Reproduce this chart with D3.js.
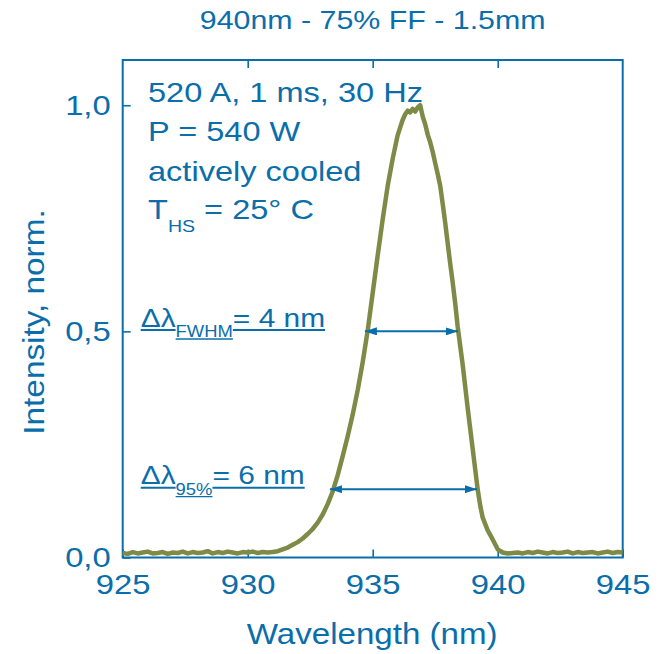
<!DOCTYPE html>
<html lang="en">
<head>
<meta charset="UTF-8">
<title>940nm - 75% FF - 1.5mm</title>
<script src="https://d3js.org/d3.v7.min.js"></script>
<style>
    body { margin: 0; background: #fff; }
    text { font-family: "Liberation Sans", Arial, sans-serif; fill: #0a6eaa; }
</style>
</head>
<body>

<div id="chart"></div>

<script>
    var blue = "#0a6eaa", olive = "#7e8b47";

    // spectrum (nm, normalised intensity)
    var wavelength = [
        925.0, 925.2, 925.4, 925.6, 925.8, 926.0, 926.2, 926.4, 926.6, 926.8,
        927.0, 927.2, 927.4, 927.6, 927.8, 928.0, 928.2, 928.4, 928.6, 928.8,
        929.0, 929.2, 929.4, 929.6, 929.8, 930.0, 930.2, 930.4, 930.6, 930.8,
        931.0, 931.2, 931.4, 931.6, 931.8, 932.0, 932.2, 932.4, 932.6, 932.8,
        933.0, 933.2, 933.4, 933.6, 933.8, 934.0, 934.2, 934.4, 934.6, 934.8,
        935.0, 935.2, 935.4, 935.6, 935.8, 936.0, 936.2, 936.3, 936.4, 936.5,
        936.6, 936.7, 936.8, 936.9, 937.0, 937.1, 937.2, 937.3, 937.4, 937.5,
        937.6, 937.7, 937.8, 937.9, 938.0, 938.1, 938.2, 938.3, 938.4, 938.5,
        938.6, 938.7, 938.8, 938.9, 939.0, 939.1, 939.2, 939.3, 939.4, 939.6,
        939.8, 940.0, 940.2, 940.4, 940.6, 940.8, 941.0, 941.2, 941.4, 941.6,
        941.8, 942.0, 942.2, 942.4, 942.6, 942.8, 943.0, 943.2, 943.4, 943.6,
        943.8, 944.0, 944.2, 944.4, 944.6, 944.8, 945.0
    ];
    var intensity = [
        0.010, 0.008, 0.012, 0.009, 0.011, 0.013, 0.009, 0.010, 0.012, 0.008,
        0.011, 0.010, 0.013, 0.009, 0.012, 0.010, 0.011, 0.014, 0.009, 0.012,
        0.010, 0.013, 0.011, 0.009, 0.012, 0.011, 0.013, 0.010, 0.012, 0.011,
        0.012, 0.014, 0.018, 0.022, 0.028, 0.034, 0.042, 0.052, 0.063, 0.077,
        0.095, 0.118, 0.146, 0.182, 0.224, 0.268, 0.316, 0.370, 0.432, 0.502,
        0.585, 0.668, 0.748, 0.822, 0.882, 0.934, 0.968, 0.980, 0.988, 0.984,
        0.992, 0.986, 0.995, 1.000, 0.975, 0.958, 0.935, 0.918, 0.897, 0.872,
        0.848, 0.822, 0.782, 0.740, 0.695, 0.650, 0.608, 0.562, 0.510, 0.468,
        0.426, 0.378, 0.330, 0.285, 0.240, 0.195, 0.150, 0.115, 0.088, 0.060,
        0.040, 0.018, 0.011, 0.009, 0.010, 0.011, 0.009, 0.012, 0.010, 0.013,
        0.011, 0.009, 0.012, 0.010, 0.011, 0.013, 0.009, 0.012, 0.010, 0.011,
        0.012, 0.009, 0.011, 0.013, 0.010, 0.012, 0.011
    ];

    var xTicks = [925, 930, 935, 940, 945];
    var yTicks = [0, 0.5, 1.0];
    var yTickLabels = ["0,0", "0,5", "1,0"];

    // width markers: [from, to] in nm and the level they sit at
    var fwhmSpan = [934.69, 938.41], fwhmLevel = 0.5;
    var span95 = [933.29, 939.17], level95 = 0.151;

    var title = "940nm - 75% FF - 1.5mm";
    var infoLines = ["520 A, 1 ms, 30 Hz", "P = 540 W", "actively cooled"];

    var W = 665, H = 654;
    var plotL = 122.7, plotR = 622.7, plotT = 60, plotB = 557.5;
    var wide = 1.15;   // the original lettering is a bit stretched sideways

    var svg = d3.select("#chart").append("svg")
        .attr("width", W)
        .attr("height", H);

    var x = d3.scaleLinear().domain([925, 945]).range([plotL, plotR]);
    var y = d3.scaleLinear().domain([0, 1.1]).range([plotB, plotT]);

    function stretch(sel) {
        sel.each(function () {
            var w = this.getComputedTextLength();
            d3.select(this)
                .attr("textLength", w * wide)
                .attr("lengthAdjust", "spacingAndGlyphs");
        });
        return sel;
    }

    // arrow head
    svg.append("defs").append("marker")
        .attr("id", "head")
        .attr("markerUnits", "userSpaceOnUse")
        .attr("viewBox", "0 0 12 8")
        .attr("refX", 12).attr("refY", 4)
        .attr("markerWidth", 12).attr("markerHeight", 8)
        .attr("orient", "auto-start-reverse")
        .append("path")
        .attr("d", "M0,0L12,4L0,8Z")
        .attr("fill", blue);

    // axes, ticks pointing inward
    var xAxis = svg.append("g")
        .attr("transform", "translate(0," + plotB + ")")
        .call(d3.axisBottom(x).tickValues(xTicks).tickFormat(d3.format("d"))
            .tickSizeInner(-8).tickSizeOuter(0).tickPadding(16));

    var xTop = svg.append("g")
        .attr("transform", "translate(0," + plotT + ")")
        .call(d3.axisTop(x).tickValues(xTicks.slice(1, -1))
            .tickSizeInner(-8).tickSizeOuter(0).tickFormat(""));

    var yAxis = svg.append("g")
        .attr("transform", "translate(" + plotL + ",0)")
        .call(d3.axisLeft(y).tickValues(yTicks)
            .tickFormat(function (d, i) { return yTickLabels[i]; })
            .tickSizeInner(-8).tickSizeOuter(0).tickPadding(12));

    [xAxis, xTop, yAxis].forEach(function (g) {
        g.select(".domain").remove();
        g.selectAll("line").attr("stroke", blue).attr("stroke-width", 1.6);
        stretch(g.selectAll("text")
            .attr("fill", blue)
            .style("font-family", "'Liberation Sans', Arial, sans-serif")
            .style("font-size", "28.5px"));
    });

    // frame
    svg.append("rect")
        .attr("x", plotL).attr("y", plotT)
        .attr("width", plotR - plotL).attr("height", plotB - plotT)
        .attr("fill", "none")
        .attr("stroke", blue)
        .attr("stroke-width", 2);

    // spectrum
    var line = d3.line()
        .x(function (d, i) { return x(wavelength[i]); })
        .y(function (d) { return y(d); });

    svg.append("path")
        .datum(intensity)
        .attr("d", line)
        .attr("fill", "none")
        .attr("stroke", olive)
        .attr("stroke-width", 4.5)
        .attr("stroke-linejoin", "round");

    // double arrows
    [[fwhmSpan, fwhmLevel], [span95, level95]].forEach(function (a) {
        svg.append("line")
            .attr("x1", x(a[0][0])).attr("x2", x(a[0][1]))
            .attr("y1", y(a[1])).attr("y2", y(a[1]))
            .attr("stroke", blue)
            .attr("stroke-width", 2)
            .attr("marker-start", "url(#head)")
            .attr("marker-end", "url(#head)");
    });

    // title + axis titles
    stretch(svg.append("text")
        .attr("x", (plotL + plotR) / 2).attr("y", 29.3)
        .attr("text-anchor", "middle")
        .style("font-size", "26.4px")
        .text(title));

    stretch(svg.append("text")
        .attr("x", (plotL + plotR) / 2 - 0.5).attr("y", 644)
        .attr("text-anchor", "middle")
        .style("font-size", "28.8px")
        .text("Wavelength (nm)"));

    stretch(svg.append("text")
        .attr("transform", "translate(44,322) rotate(-90)")
        .attr("text-anchor", "middle")
        .style("font-size", "29px")
        .text("Intensity, norm."));

    // operating conditions
    infoLines.forEach(function (s, i) {
        stretch(svg.append("text")
            .attr("x", 148).attr("y", 102 + i * 39.3)
            .style("font-size", "28.3px")
            .text(s));
    });

    // runs of text pieces (with sub-scripts), optionally underlined
    function pieces(x0, base, parts, underline) {
        var cx = x0;
        parts.forEach(function (p) {
            var t = stretch(svg.append("text")
                .attr("x", cx).attr("y", base + p.dy)
                .style("font-size", p.size + "px")
                .text(p.t));
            var w = +t.attr("textLength");
            if (underline) {
                var uy = base + p.dy + (p.dy ? 1.8 : 3.4);
                svg.append("line")
                    .attr("x1", cx).attr("x2", cx + w)
                    .attr("y1", uy).attr("y2", uy)
                    .attr("stroke", blue)
                    .attr("stroke-width", p.dy ? 1.4 : 2);
            }
            cx += w;
        });
    }

    pieces(148, 219, [
        { t: "T", size: 28.3, dy: 0 },
        { t: "HS", size: 17, dy: 12.5 },
        { t: "\u00a0= 25\u00b0 C", size: 28.3, dy: 0 }
    ], false);

    pieces(140.7, 326.7, [
        { t: "\u0394\u03bb", size: 26, dy: 0 },
        { t: "FWHM", size: 16, dy: 10.5 },
        { t: "= 4 nm", size: 26, dy: 0 }
    ], true);

    pieces(140.7, 484.3, [
        { t: "\u0394\u03bb", size: 26, dy: 0 },
        { t: "95%", size: 16, dy: 10.5 },
        { t: "= 6 nm", size: 26, dy: 0 }
    ], true);
</script>

</body>
</html>
